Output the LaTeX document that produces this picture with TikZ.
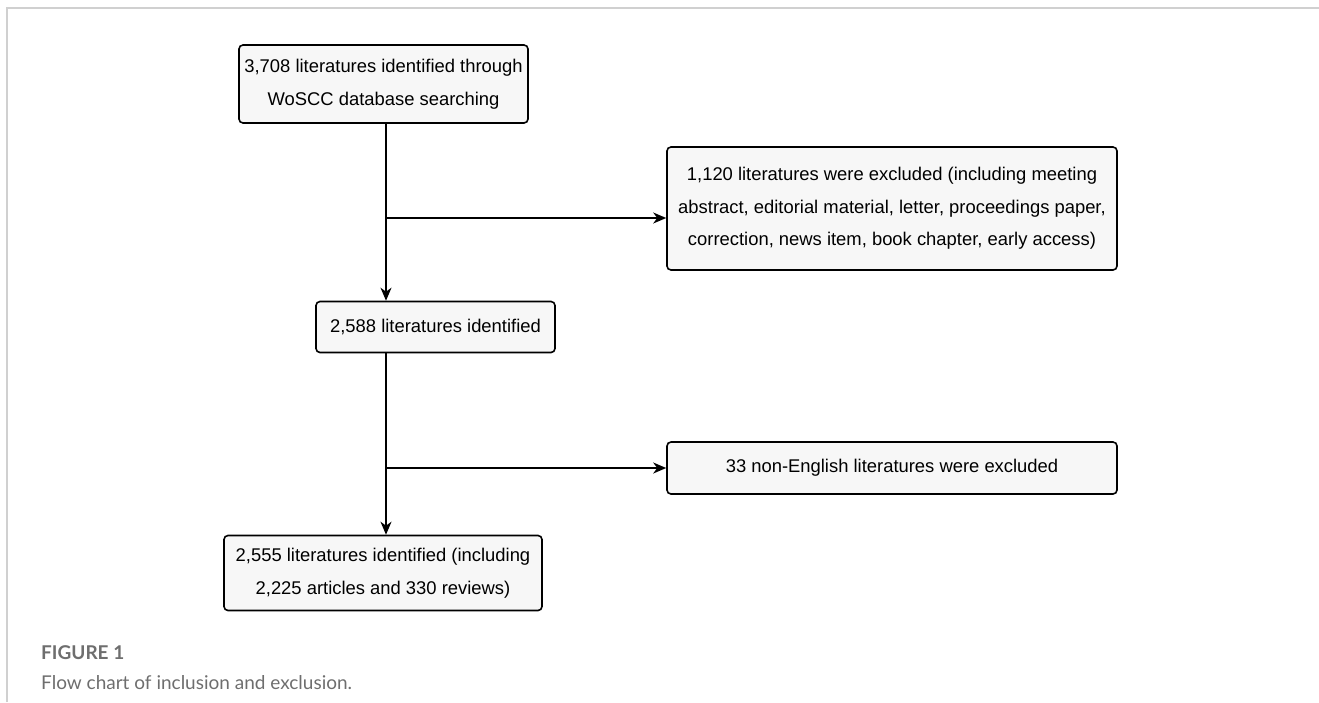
\documentclass[tikz,border=0pt]{standalone}
\usepackage{fontspec}
\setmainfont{Liberation Sans}
\newfontfamily\capfont{Lato}
\usetikzlibrary{arrows.meta}
\definecolor{boxfill}{HTML}{F7F7F7}
\definecolor{framegray}{HTML}{D0D0D0}
\definecolor{capgray}{HTML}{6E6E6E}
\tikzset{
  flowbox/.style={draw=black, line width=1.6pt, rounded corners=4pt, fill=boxfill,
    align=center, inner sep=0pt, font=\fontsize{18.4}{32.5}\selectfont},
  arr/.style={line width=1.6pt, -{Stealth[length=13pt,width=11pt,inset=4pt]}},
  captxt/.style={anchor=base west, inner sep=0pt, text=capgray}
}
\begin{document}
\begin{tikzpicture}[x=1pt,y=-1pt]
\useasboundingbox (0,0) rectangle (1319,702);
\draw[framegray, line width=1.2pt] (7,702) -- (7,8) -- (1319,8);

\node[flowbox, minimum width=289pt, minimum height=78pt] (b1) at (383.5,84)
  {3,708 literatures identified through\\WoSCC database searching};
\node[flowbox, minimum width=450pt, minimum height=123pt] (b2) at (892,208.5)
  {1,120 literatures were excluded (including meeting\\abstract, editorial material, letter, proceedings paper,\\correction, news item, book chapter, early access)};
\node[flowbox, minimum width=239pt, minimum height=51pt] (b3) at (435.5,327)
  {2,588 literatures identified};
\node[flowbox, minimum width=450pt, minimum height=52pt] (b4) at (892,468)
  {33 non-English literatures were excluded};
\node[flowbox, minimum width=318pt, minimum height=75pt] (b5) at (383,573)
  {2,555 literatures identified (including\\2,225 articles and 330 reviews)};

\coordinate (s1) at (386,123);
\coordinate (j1) at (386,218);
\coordinate (s2) at (386,352);
\coordinate (j2) at (386,468);

\draw[arr] (s1) -- (s1 |- b3.north);
\draw[arr] (j1) -- (j1 -| b2.west);
\draw[arr] (s2) -- (s2 |- b5.north);
\draw[arr] (j2) -- (j2 -| b4.west);

\node[captxt, font=\capfont\bfseries\fontsize{19}{21}\selectfont] (cap1) at (41,659) {FIGURE 1};
\node[captxt, font=\capfont\fontsize{19}{21}\selectfont] (cap2) at (41,689) {Flow chart of inclusion and exclusion.};
\end{tikzpicture}
\end{document}
